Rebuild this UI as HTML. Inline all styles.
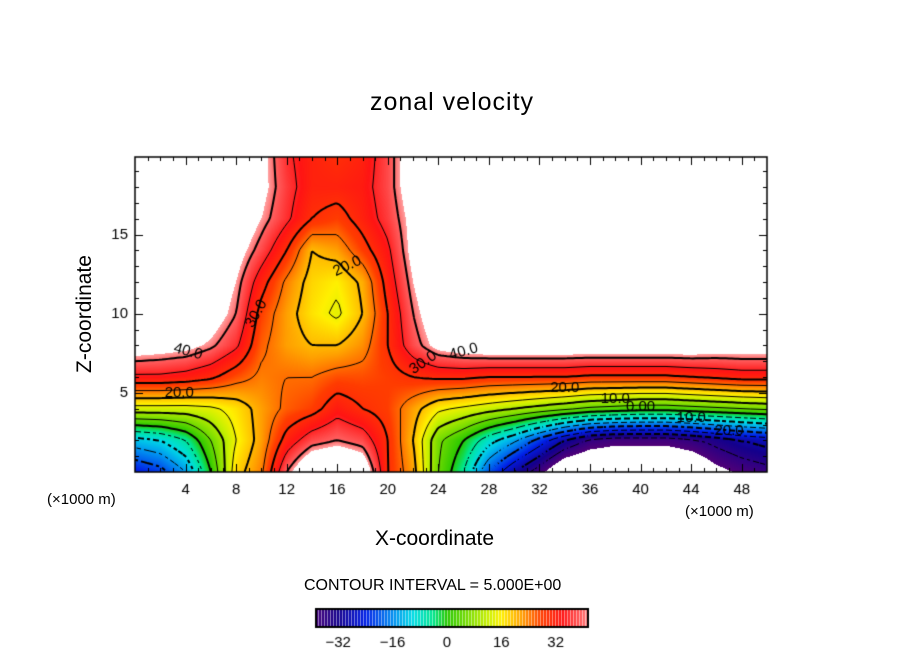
<!DOCTYPE html>
<html><head><meta charset="utf-8"><style>
body{margin:0;background:#fff;width:904px;height:654px;overflow:hidden;position:relative;font-family:"Liberation Sans",sans-serif}
.t{position:absolute;color:#000;white-space:nowrap}
</style></head><body>
<div class="t" style="left:0;width:904px;text-align:center;top:88px;font-size:25px;letter-spacing:1px">zonal velocity</div>
<canvas id="c" width="904" height="654" style="position:absolute;left:0;top:0"></canvas>
<div class="t" style="left:375px;top:527px;font-size:21px">X-coordinate</div>
<div class="t" style="left:-10px;top:302px;width:190px;text-align:center;font-size:21px;transform:rotate(-90deg)">Z-coordinate</div>
<div class="t" style="left:47px;top:491px;font-size:15px">(×1000 m)</div>
<div class="t" style="left:685px;top:503px;font-size:15px">(×1000 m)</div>
<div class="t" style="left:304px;top:577px;font-size:16px">CONTOUR INTERVAL = 5.000E+00</div>
<script>
const xCoords=[0,2,4,6,8,10,12,14,16,18,20,22,24,26,28,30,32,34,36,38,40,42,44,46,48,50];
const zCoords=[0,2,4,6,8,10,12,14,16,18,20];
const row0=[-25,-22,-15,0,18,24,40,50,52,48,30,22,5,-5,-20,-30,-38,-48,-50,-50,-50,-50,-48,-42,-39,-37];
const row2=[-12,-10,-5,5,15,22,32,38,40,38,30,20,6,0,-8,-14,-22,-30,-36,-38,-38,-38,-36,-33,-30,-28];
const row4=[13,13,13,14,17,22,26,28,33,30,28,22,16,14,12,10,8,6,4,3,2,2,3,4,5,6];
const row6=[34,34,33,31,27,24,25,25,27,27,28,30,31,31,30,30,30,30,29,29,29,29,30,31,32,32];
const row8=[46,45,44,41,36,26,22,20,20,23,30,38,44,46,47,47,47,47,47,47,47,47,47,46,46,46];
const row10=[50,50,49,46,40,28,22,17,14,20,30,40,47,50,50,50,50,50,50,50,50,50,50,50,50,50];
const row12=[50,50,50,47,42,32,24,18,16,21,32,42,49,50,50,50,50,50,50,50,50,50,50,50,50,50];
const row14=[50,50,50,50,45,38,30,20,22,28,34,44,50,50,50,50,50,50,50,50,50,50,50,50,50,50];
const row16=[50,50,50,50,48,42,36,30,28,32,37,44,50,50,50,50,50,50,50,50,50,50,50,50,50,50];
const row18=[50,50,50,50,50,44,37,32,32,33,38,46,50,50,50,50,50,50,50,50,50,50,50,50,50,50];
const row20=[50,50,50,50,50,44,36,32,30,32,38,46,50,50,50,50,50,50,50,50,50,50,50,50,50,50];
const grid=[row0,row2,row4,row6,row8,row10,row12,row14,row16,row18,row20];
const xTicks=[4,8,12,16,20,24,28,32,36,40,44,48];
const zTicks=[5,10,15];
const cbTicks=[-32,-16,0,16,32];
const levels=[-35,-30,-25,-20,-15,-10,-5,0,5,10,15,20,25,30,35,40];
const labels=[["40.0",4.2,7.6,15],["30.0",9.6,10,-60],["20.0",16.8,13,-25],["20.0",3.5,5,0],["30.0",22.8,6.9,-35],["40.0",26,7.6,-15],["20.0",34,5.3,0],["10.0",38,4.6,0],["0.00",40,4.1,0],["10.0",44,3.4,0],["20.0",47,2.6,0]];

const L=135,R=767,T=157,B=472,ZMAX=19.9;
const sx=x=>L+x/50*(R-L), sz=z=>B-z/ZMAX*(B-T);
const stops=[[-40,80,0,120],[-32,20,0,140],[-24,0,30,230],[-16,0,140,240],[-10,0,220,230],[-4,0,230,140],[0,40,200,0],[6,120,220,0],[12,200,240,0],[16,255,240,0],[22,255,160,0],[28,255,60,0],[34,255,20,20],[40,255,100,100],[42,255,160,160]];
function col(v){if(v<-40||v>42)return[255,255,255];for(let i=1;i<stops.length;i++){if(v<=stops[i][0]){const a=stops[i-1],b=stops[i],t=(v-a[0])/(b[0]-a[0]);return[a[1]+t*(b[1]-a[1]),a[2]+t*(b[2]-a[2]),a[3]+t*(b[3]-a[3])];}}return[255,160,160];}
function val(x,z){let i=Math.min(xCoords.length-2,Math.floor(x/2)),j=Math.min(zCoords.length-2,Math.floor(z/2));if(i<0)i=0;if(j<0)j=0;
const tx=(x-xCoords[i])/2,tz=(z-zCoords[j])/2;const a=grid[j][i],b=grid[j][i+1],c=grid[j+1][i],d=grid[j+1][i+1];
return a*(1-tx)*(1-tz)+b*tx*(1-tz)+c*(1-tx)*tz+d*tx*tz;}
const cv=document.getElementById('c'),ctx=cv.getContext('2d');
const img=ctx.createImageData(R-L,B-T);
for(let py=0;py<B-T;py++)for(let px=0;px<R-L;px++){const x=(px+.5)/(R-L)*50,z=(B-T-py-.5)/(B-T)*ZMAX;const c=col(val(x,z));const k=(py*(R-L)+px)*4;img.data[k]=c[0];img.data[k+1]=c[1];img.data[k+2]=c[2];img.data[k+3]=255;}
ctx.putImageData(img,L,T);
const st=3,nx=Math.ceil((R-L)/st),ny=Math.ceil((B-T)/st);
const F=[];for(let j=0;j<=ny;j++){F[j]=[];for(let i=0;i<=nx;i++){F[j][i]=val(Math.min(50,i*st/(R-L)*50),Math.max(0,ZMAX-j*st/(B-T)*ZMAX));}}
ctx.save();ctx.beginPath();ctx.rect(L,T,R-L,B-T);ctx.clip();ctx.strokeStyle='#000';
levels.forEach(lv=>{ctx.lineWidth=(lv%10===0)?2:1;ctx.beginPath();
for(let j=0;j<ny;j++)for(let i=0;i<nx;i++){const v=[F[j][i],F[j][i+1],F[j+1][i+1],F[j+1][i]];const p=[[i,j],[i+1,j],[i+1,j+1],[i,j+1]];const pts=[];
for(let e=0;e<4;e++){const a=v[e],b=v[(e+1)%4];if((a<lv)!==(b<lv)){const t=(lv-a)/(b-a);const pa=p[e],pb=p[(e+1)%4];pts.push([L+(pa[0]+t*(pb[0]-pa[0]))*st,T+(pa[1]+t*(pb[1]-pa[1]))*st]);}}
if(lv<0&&((i+j)%3===0))continue;
for(let k=0;k+1<pts.length;k+=2){ctx.moveTo(pts[k][0],pts[k][1]);ctx.lineTo(pts[k+1][0],pts[k+1][1]);}}
ctx.stroke();});
ctx.font='15px "Liberation Sans",sans-serif';ctx.textAlign='center';ctx.textBaseline='middle';
labels.forEach(l=>{ctx.save();ctx.translate(sx(l[1]),sz(l[2]));ctx.rotate(l[3]*Math.PI/180);ctx.fillStyle='#000';ctx.fillText(l[0],0,0);ctx.restore();});
ctx.restore();
ctx.strokeStyle='#000';ctx.lineWidth=1.5;ctx.strokeRect(L,T,R-L,B-T);ctx.lineWidth=1;ctx.beginPath();
for(let x=1;x<50;x++){const X=Math.round(sx(x))+.5,len=x%4===0?8:4;ctx.moveTo(X,B);ctx.lineTo(X,B-len);ctx.moveTo(X,T);ctx.lineTo(X,T+len);}
for(let z=1;z<20;z++){const Y=Math.round(sz(z))+.5,len=z%5===0?8:4;ctx.moveTo(L,Y);ctx.lineTo(L+len,Y);ctx.moveTo(R,Y);ctx.lineTo(R-len,Y);}
ctx.stroke();
ctx.fillStyle='#000';ctx.font='15px "Liberation Sans",sans-serif';ctx.textAlign='center';ctx.textBaseline='top';
xTicks.forEach(x=>ctx.fillText(String(x),sx(x),482));
ctx.textAlign='right';ctx.textBaseline='middle';zTicks.forEach(z=>ctx.fillText(String(z),128,sz(z)));
const CL=316,CR=588,CT=609,CB=627,VMIN=-38.5,VMAX=41.5;const cbx=v=>CL+(v-VMIN)/(VMAX-VMIN)*(CR-CL);
for(let px=CL;px<CR;px++){const v=VMIN+(px+.5-CL)/(CR-CL)*(VMAX-VMIN);const c=col(v);ctx.fillStyle=`rgb(${c[0]|0},${c[1]|0},${c[2]|0})`;ctx.fillRect(px,CT,1,CB-CT);if(px%3===0){ctx.fillStyle='rgba(255,255,255,0.5)';ctx.fillRect(px,CT,1,CB-CT);}}
ctx.lineWidth=2;ctx.strokeRect(CL,CT,CR-CL,CB-CT);
ctx.fillStyle='#000';ctx.textAlign='center';ctx.textBaseline='middle';ctx.font='15px "Liberation Sans",sans-serif';
cbTicks.forEach(v=>ctx.fillText(String(v).replace('-','\u2212'),cbx(v),643));
</script>
</body></html>
